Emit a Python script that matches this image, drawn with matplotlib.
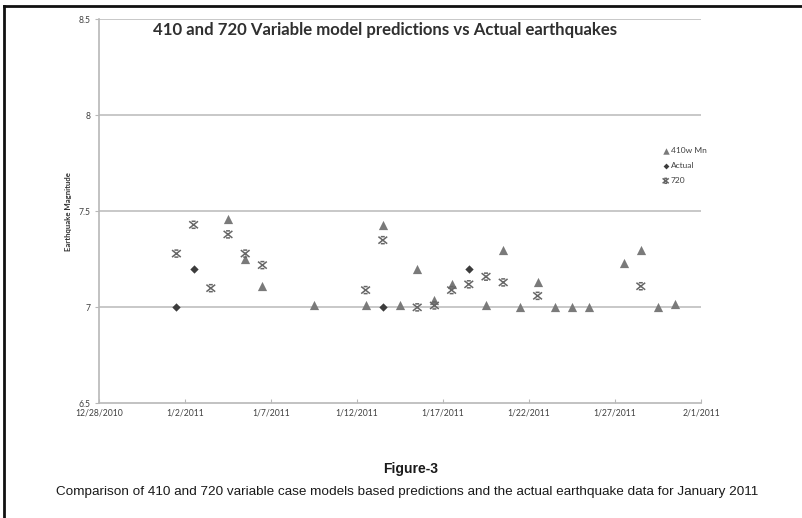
import matplotlib
matplotlib.use("Agg")
import matplotlib.pyplot as plt
import matplotlib.dates as mdates
from matplotlib.path import Path
from matplotlib.lines import Line2D
from matplotlib.ticker import FuncFormatter, FixedLocator
import datetime as dt

# ---- data ----
dates_410 = ["2011-01-04", "2011-01-05", "2011-01-06", "2011-01-09", "2011-01-12",
             "2011-01-13", "2011-01-14", "2011-01-15", "2011-01-16", "2011-01-17",
             "2011-01-19", "2011-01-20", "2011-01-21", "2011-01-22", "2011-01-23",
             "2011-01-24", "2011-01-25", "2011-01-27", "2011-01-28", "2011-01-29",
             "2011-01-30"]
vals_410 = [7.46, 7.25, 7.11, 7.01, 7.01,
            7.43, 7.01, 7.20, 7.04, 7.12,
            7.01, 7.30, 7.00, 7.13, 7.00,
            7.00, 7.00, 7.23, 7.30, 7.00,
            7.02]

dates_actual = ["2011-01-01", "2011-01-02", "2011-01-13", "2011-01-18"]
vals_actual = [7.0, 7.2, 7.0, 7.2]

dates_720 = ["2011-01-01", "2011-01-02", "2011-01-03", "2011-01-04", "2011-01-05",
             "2011-01-06", "2011-01-12", "2011-01-13", "2011-01-15", "2011-01-16",
             "2011-01-17", "2011-01-18", "2011-01-19", "2011-01-20", "2011-01-22",
             "2011-01-28"]
vals_720 = [7.28, 7.43, 7.10, 7.38, 7.28,
            7.22, 7.09, 7.35, 7.00, 7.01,
            7.09, 7.12, 7.16, 7.13, 7.06,
            7.11]

series_names = ["410w Mn", "Actual", "720"]
y_ticks = [6.5, 7, 7.5, 8, 8.5]
y_tick_labels = ["6.5", "7", "7.5", "8", "8.5"]
x_start = "2010-12-28"
x_end = "2011-02-01"

title = "410 and 720 Variable model predictions vs Actual earthquakes"
y_label = "Earthquake Magnitude"
fig_label = "Figure-3"
caption = ("Comparison of 410 and 720 variable case models based predictions "
           "and the actual earthquake data for January 2011")

# ---- helpers ----
def to_num(ds):
    # points sit at midday of their date
    return [mdates.date2num(dt.datetime.strptime(d, "%Y-%m-%d")) + 0.5 for d in ds]

star_verts = [(-1, -0.8), (1, 0.8), (-1, 0.8), (1, -0.8),
              (-0.45, 0.8), (0.45, 0.8), (-0.45, -0.8), (0.45, -0.8)]
star_codes = [Path.MOVETO, Path.LINETO] * 4
star_marker = Path(star_verts, star_codes)

W, H = 802, 518
fig = plt.figure(figsize=(W / 100, H / 100), dpi=100)
fig.patch.set_facecolor("white")

ax_l, ax_r, ax_t, ax_b = 99, 701, 19.3, 403.4
ax = fig.add_axes([ax_l / W, 1 - ax_b / H, (ax_r - ax_l) / W, (ax_b - ax_t) / H])

x0 = mdates.date2num(dt.datetime.strptime(x_start, "%Y-%m-%d"))
x1 = mdates.date2num(dt.datetime.strptime(x_end, "%Y-%m-%d"))
ax.set_xlim(x0, x1)
ax.set_ylim(6.5, 8.5)

grid_c = "#c4c4c4"
for yv in y_ticks[1:]:
    ax.axhline(yv, color=grid_c, lw=1.3, zorder=1)

ax.scatter(to_num(dates_410), vals_410, marker="^", s=44, color="#7a7a7a",
           linewidths=0, zorder=3, label=series_names[0])
ax.scatter(to_num(dates_actual), vals_actual, marker="D", s=18, color="#3c3c3c",
           linewidths=0, zorder=4, label=series_names[1])
ax.scatter(to_num(dates_720), vals_720, marker=star_marker, s=40, facecolor="none",
           edgecolors="#666666", linewidths=1.1, zorder=5, label=series_names[2])

for s in ["top", "right"]:
    ax.spines[s].set_visible(False)
for s in ["left", "bottom"]:
    ax.spines[s].set_color("#b8b8b8")
    ax.spines[s].set_linewidth(1.2)

ax.yaxis.set_major_locator(FixedLocator(y_ticks))
ax.set_yticklabels(y_tick_labels)
xt = [x0 + 5 * i for i in range(8)]
ax.xaxis.set_major_locator(FixedLocator(xt))

def fmt(v, pos):
    d = mdates.num2date(v)
    return f"{d.month}/{d.day}/{d.year}"

ax.xaxis.set_major_formatter(FuncFormatter(fmt))
for lab in ax.get_xticklabels() + ax.get_yticklabels():
    lab.set_fontfamily(["Lato", "DejaVu Sans"])
    lab.set_fontsize(6.2)
    lab.set_color("#404040")
ax.tick_params(axis="x", direction="in", length=3, color="#b8b8b8", pad=4)
ax.tick_params(axis="y", direction="out", length=3, color="#b8b8b8", pad=3)

ax.set_ylabel(y_label, fontsize=5.6, fontweight="bold", family=["Lato", "DejaVu Sans"],
              color="#303030", labelpad=5)

fig.text(385.5 / W, 1 - 30 / H, title, ha="center", va="center", fontsize=12.1,
         fontweight="bold", family=["Lato", "DejaVu Sans"], color="#303030")

leg = ax.legend(loc="upper left", bbox_to_anchor=((659 - ax_l) / (ax_r - ax_l),
                1 - (143 - ax_t) / (ax_b - ax_t)), frameon=False,
                prop=dict(family=["Lato", "DejaVu Sans"], size=6),
                handlelength=0.6, handletextpad=0.3, labelspacing=0.95,
                markerscale=0.7, borderpad=0)
for t in leg.get_texts():
    t.set_color("#404040")

fig.text(411 / W, 1 - 469 / H, fig_label, ha="center", va="center", fontsize=10,
         fontweight="bold", family=["Liberation Sans Narrow", "Liberation Sans", "DejaVu Sans"],
         color="#1a1a1a")
fig.text(407 / W, 1 - 492 / H, caption, ha="center", va="center", fontsize=9.7,
         family=["Liberation Sans Narrow", "Liberation Sans", "DejaVu Sans"],
         color="#1a1a1a")

# page frame
fig.add_artist(Line2D([4 / W, 1], [1 - 6 / H, 1 - 6 / H], transform=fig.transFigure,
                      color="#111111", lw=2))
fig.add_artist(Line2D([4 / W, 4 / W], [0, 1 - 6 / H], transform=fig.transFigure,
                      color="#111111", lw=2))

fig.savefig("out.png", dpi=100, facecolor="white")
